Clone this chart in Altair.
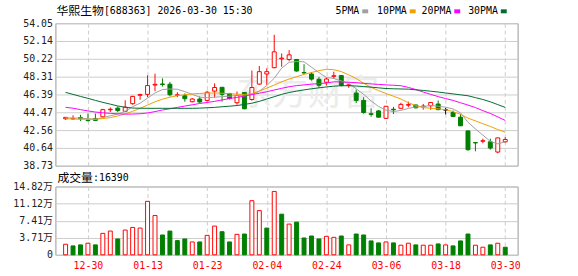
import altair as alt
import pandas as pd

stock_name = "华熙生物"
stock_code = "688363"
stamp = "2026-03-30 15:30"
vol_caption = "成交量"
last_volume = 16390
watermark = "东方财富"

dates = ["12-25", "12-26", "12-29", "12-30", "12-31", "01-05", "01-06", "01-07", "01-08", "01-09",
         "01-12", "01-13", "01-14", "01-15", "01-16", "01-19", "01-20", "01-21", "01-22", "01-23",
         "01-26", "01-27", "01-28", "01-29", "01-30", "02-02", "02-03", "02-04", "02-05", "02-06",
         "02-09", "02-10", "02-11", "02-12", "02-13", "02-24", "02-25", "02-26", "02-27", "03-02",
         "03-03", "03-04", "03-05", "03-06", "03-09", "03-10", "03-11", "03-12", "03-13", "03-16",
         "03-17", "03-18", "03-19", "03-20", "03-23", "03-24", "03-25", "03-26", "03-27", "03-30"]

opens = [43.78, 43.76, 43.90, 43.62, 43.80, 43.99, 44.74, 44.92, 44.58, 45.40,
         46.30, 46.40, 47.40, 47.52, 47.49, 46.30, 46.25, 45.61, 45.90, 45.75,
         46.75, 47.16, 46.50, 45.50, 46.60, 45.85, 47.50, 48.59, 49.27, 50.22,
         50.15, 50.15, 48.75, 48.59, 48.02, 47.70, 48.34, 48.42, 47.35, 46.54,
         45.75, 44.32, 44.62, 43.82, 44.80, 44.90, 45.24, 45.26, 45.08, 45.18,
         45.36, 44.73, 44.45, 43.95, 42.47, 41.22, 41.36, 41.30, 40.20, 41.30]
highs = [43.95, 44.14, 44.20, 44.34, 44.34, 44.85, 44.98, 45.10, 45.76, 46.25,
         46.47, 48.45, 48.62, 48.13, 47.74, 46.63, 46.50, 46.00, 46.18, 46.78,
         47.58, 47.18, 46.55, 46.71, 46.65, 48.96, 49.45, 49.20, 52.80, 50.80,
         51.15, 50.15, 49.64, 48.77, 48.28, 48.23, 48.84, 48.45, 47.50, 46.93,
         46.10, 44.90, 44.72, 45.15, 45.05, 45.50, 45.62, 45.30, 45.37, 45.56,
         45.74, 44.94, 44.66, 44.27, 42.50, 41.25, 41.64, 41.64, 41.75, 41.80]
lows = [43.65, 43.70, 43.53, 43.49, 43.58, 43.95, 44.50, 44.48, 44.50, 45.29,
        45.83, 46.10, 46.75, 47.24, 46.18, 46.10, 45.61, 45.54, 45.47, 45.65,
        46.05, 45.62, 45.85, 45.29, 44.80, 45.72, 47.42, 47.42, 49.20, 49.37,
        49.97, 48.84, 48.60, 47.88, 47.10, 47.35, 48.06, 47.25, 47.10, 45.47,
        44.32, 44.00, 43.88, 43.78, 44.28, 44.85, 45.02, 44.90, 44.76, 44.75,
        44.70, 44.25, 44.00, 43.00, 40.35, 40.28, 41.15, 40.45, 40.07, 41.22]
closes = [43.93, 43.80, 43.77, 43.58, 43.60, 44.76, 44.80, 44.66, 45.02, 46.18,
          46.38, 47.35, 47.48, 47.46, 46.36, 46.35, 45.93, 45.90, 45.58, 46.63,
          47.14, 46.40, 45.95, 46.28, 44.85, 47.14, 48.84, 48.84, 50.97, 50.30,
          50.65, 48.91, 48.70, 48.04, 47.38, 48.05, 48.40, 47.35, 47.42, 45.75,
          44.45, 44.25, 43.95, 45.12, 44.74, 45.32, 45.30, 44.95, 45.14, 45.52,
          44.76, 44.73, 44.02, 43.02, 40.45, 41.18, 41.42, 40.63, 41.72, 41.55]

# volume in 万
volumes = [2.29, 1.93, 2.15, 2.51, 2.15, 4.65, 5.15, 3.44, 5.37, 5.94,
           5.80, 11.60, 8.52, 4.30, 5.15, 3.08, 3.44, 2.79, 2.79, 4.22,
           6.23, 5.01, 2.79, 4.44, 4.51, 11.74, 9.59, 5.80, 13.75, 8.81,
           6.66, 7.09, 3.65, 4.08, 3.44, 4.01, 3.79, 4.08, 2.15, 4.51,
           4.30, 3.01, 2.58, 2.79, 2.58, 2.08, 2.51, 2.15, 2.08, 2.08,
           2.36, 2.15, 1.93, 3.01, 4.51, 2.08, 1.65, 2.15, 2.51, 1.639]
vol_dir = ["up", "down", "down", "up", "down", "up", "up", "down", "up", "up",
           "up", "up", "up", "down", "down", "down", "down", "up", "down", "up",
           "up", "down", "down", "up", "down", "up", "up", "down", "up", "down",
           "up", "down", "down", "down", "down", "up", "up", "down", "up", "down",
           "down", "down", "down", "up", "down", "up", "up", "down", "up", "up",
           "down", "up", "down", "down", "down", "up", "up", "down", "up", "down"]

ma5 = [43.88, 43.86, 43.84, 43.78, 43.74, 43.90, 44.10, 44.28, 44.57, 45.08,
       45.45, 46.00, 46.55, 46.92, 46.98, 46.95, 46.70, 46.40, 46.10, 46.05,
       46.10, 46.15, 46.20, 46.30, 46.25, 46.35, 46.75, 47.35, 48.13, 49.22,
       49.85, 49.93, 49.90, 49.32, 48.74, 48.22, 48.11, 47.84, 47.60, 47.00,
       46.40, 45.70, 45.10, 44.70, 44.55, 44.68, 44.89, 45.05, 45.09, 45.20,
       45.13, 45.02, 44.83, 44.41, 43.40, 42.68, 42.02, 41.34, 41.08, 41.30]
ma10 = [43.77, 43.75, 43.73, 43.72, 43.72, 43.80, 43.90, 44.08, 44.30, 44.58,
        44.90, 45.25, 45.60, 45.88, 46.10, 46.25, 46.36, 46.45, 46.50, 46.54,
        46.55, 46.52, 46.47, 46.42, 46.40, 46.50, 46.75, 47.07, 47.40, 47.75,
        48.05, 48.30, 48.55, 48.75, 48.95, 49.10, 49.05, 48.85, 48.50, 48.10,
        47.60, 47.15, 46.80, 46.50, 46.20, 45.90, 45.50, 45.20, 44.98, 44.90,
        44.85, 44.75, 44.55, 44.25, 43.85, 43.55, 43.25, 42.95, 42.62, 42.33]
ma20 = [45.01, 44.91, 44.76, 44.62, 44.50, 44.42, 44.36, 44.31, 44.28, 44.28,
        44.32, 44.40, 44.55, 44.72, 44.85, 45.00, 45.14, 45.28, 45.42, 45.53,
        45.65, 45.80, 45.95, 46.08, 46.22, 46.38, 46.52, 46.68, 46.87, 47.05,
        47.22, 47.34, 47.42, 47.50, 47.56, 47.62, 47.75, 47.74, 47.70, 47.66,
        47.58, 47.52, 47.47, 47.42, 47.38, 47.33, 47.15, 46.92, 46.65, 46.40,
        46.16, 45.95, 45.75, 45.50, 45.25, 44.98, 44.65, 44.35, 43.98, 43.60]
ma30 = [46.61, 46.40, 46.18, 45.97, 45.75, 45.54, 45.35, 45.15, 45.02, 44.93,
        44.91, 44.90, 44.90, 44.90, 44.90, 44.90, 44.90, 44.90, 44.92, 44.96,
        45.00, 45.07, 45.13, 45.20, 45.32, 45.45, 45.65, 45.90, 46.15, 46.40,
        46.60, 46.75, 46.88, 47.00, 47.10, 47.20, 47.28, 47.33, 47.33, 47.30,
        47.24, 47.18, 47.10, 47.03, 47.00, 46.98, 46.96, 46.89, 46.82, 46.74,
        46.65, 46.55, 46.45, 46.35, 46.25, 46.05, 45.85, 45.60, 45.30, 45.00]

ma_names = ["5PMA", "10PMA", "20PMA", "30PMA"]
ma_colors = ["#a0a0a0", "#f0a000", "#ff00ff", "#006b33"]
ma_series = [ma5, ma10, ma20, ma30]

tick_idx = [3, 11, 19, 27, 35, 43, 51, 59]
price_ticks = [38.73, 40.64, 42.56, 44.47, 46.39, 48.31, 50.22, 52.14, 54.05]
vol_ticks = [0, 3.71, 7.41, 11.12, 14.82]

RED = "#ff0000"
GREEN = "#008000"
MONO = "DejaVu Sans Mono, Noto Sans CJK SC"
CJK = "Noto Sans CJK SC"
W, H1, H2 = 467, 144, 69
LEFT, TOP, GAP, BOTTOM = 55, 21, 21, 21

n = len(dates)
idx = list(range(n))


def direction(o, c):
    return "up" if c > o else ("down" if c < o else "flat")


candles = pd.DataFrame({"idx": idx, "date": dates, "open": opens, "high": highs,
                        "low": lows, "close": closes})
candles["dir"] = [direction(o, c) for o, c in zip(opens, closes)]
vol_df = pd.DataFrame({"idx": idx, "vol": volumes, "dir": vol_dir})

xscale = alt.Scale(domain=[-0.7, 60.0], nice=False, zero=False)
pscale = alt.Scale(domain=[38.73, 54.05], nice=False, zero=False)
vscale = alt.Scale(domain=[0, 14.82], nice=False)
date_array = "[" + ",".join("'%s'" % d for d in dates) + "]"


def X(show):
    return alt.X("idx:Q", scale=xscale,
                 axis=alt.Axis(values=tick_idx, grid=True, gridColor="#cccccc", gridDash=[4, 3],
                               ticks=False, domain=False, labels=show,
                               labelExpr=date_array + "[datum.value]", labelColor=RED,
                               labelFont=MONO, labelFontSize=10, labelPadding=6, title=""))


def YP(field):
    return alt.Y(field + ":Q", scale=pscale,
                 axis=alt.Axis(values=price_ticks, format=".2f", grid=True, gridColor="#cccccc",
                               ticks=False, domain=False, labelFont=MONO, labelFontSize=10,
                               labelColor="#222222", labelPadding=3, title=""))


def YV(field):
    return alt.Y(field + ":Q", scale=vscale,
                 axis=alt.Axis(values=vol_ticks, grid=True, gridColor="#cccccc",
                               labelExpr="datum.value == 0 ? '0' : format(datum.value, '.2f') + '万'",
                               ticks=False, domain=False, labelFont=MONO, labelFontSize=10,
                               labelColor="#222222", labelPadding=3, title=""))


def label(text, x, y, font=MONO, size=10, color="#000000", align="left"):
    return alt.Chart(pd.DataFrame({"t": [text]})).mark_text(
        font=font, fontSize=size, color=color, align=align, baseline="middle"
    ).encode(text="t:N", x=alt.value(x), y=alt.value(y))


def frame_anchor(y_top, y_bottom):
    # invisible box fixing the outer bounds of the page layout
    return alt.Chart(pd.DataFrame({"t": [0]})).mark_rect(opacity=0).encode(
        x=alt.value(-LEFT), x2=alt.value(W + 60), y=alt.value(y_top), y2=alt.value(y_bottom))


dir_colors = {"up": RED, "down": GREEN, "flat": "#000000"}

main_layers = [frame_anchor(-TOP, H1),
               label(watermark, 255, 72, font=CJK, size=36, color="#ececec", align="center")]
for d, col in dir_colors.items():
    main_layers.append(
        alt.Chart(candles).transform_filter("datum.dir == '%s'" % d)
        .mark_rule(color=col, strokeWidth=1)
        .encode(x=X(False), y=YP("low"), y2="high:Q"))
for d, col in dir_colors.items():
    fill = "white" if d == "up" else col
    main_layers.append(
        alt.Chart(candles).transform_filter("datum.dir == '%s'" % d)
        .mark_bar(size=4, fill=fill, stroke=col, strokeWidth=1)
        .encode(x=X(False), y=YP("open"), y2="close:Q"))
for name, col, vals in zip(ma_names, ma_colors, ma_series):
    df = pd.DataFrame({"idx": idx, "value": vals})
    main_layers.append(
        alt.Chart(df).mark_line(color=col, strokeWidth=1)
        .encode(x=X(False), y=YP("value"), order="idx:Q"))

main_layers.append(label(stock_name, 1, -12, font=CJK, size=12))
main_layers.append(label("[%s] %s" % (stock_code, stamp), 49, -12))

legend_x = [283, 325, 370, 417]
for name, col, lx in zip(ma_names, ma_colors, legend_x):
    main_layers.append(label(name, lx, -12))
    sx = lx + 6 * len(name) + 3
    main_layers.append(
        alt.Chart(pd.DataFrame({"t": [name]})).mark_rect(color=col)
        .encode(x=alt.value(sx), x2=alt.value(sx + 6), y=alt.value(-14), y2=alt.value(-10)))

main = alt.layer(*main_layers).properties(width=W, height=H1)

vol_layers = [frame_anchor(0, H2 + BOTTOM)]
for d, col in [("up", RED), ("down", GREEN)]:
    fill = "white" if d == "up" else col
    vol_layers.append(
        alt.Chart(vol_df).transform_filter("datum.dir == '%s'" % d)
        .mark_bar(size=4, fill=fill, stroke=col, strokeWidth=1)
        .encode(x=X(True), y=YV("vol")))
vol_layers.append(label(vol_caption, 2, -9, font=CJK, size=12))
vol_layers.append(label(":%d" % last_volume, 38, -9))

vol = alt.layer(*vol_layers).properties(width=W, height=H2)

chart = alt.vconcat(main, vol, spacing=GAP, bounds="flush").properties(
    padding=0,
    background="white",
).configure_view(stroke="#999999", strokeWidth=1)

chart.save("out.html", embed_options={"renderer": "svg", "actions": False})
